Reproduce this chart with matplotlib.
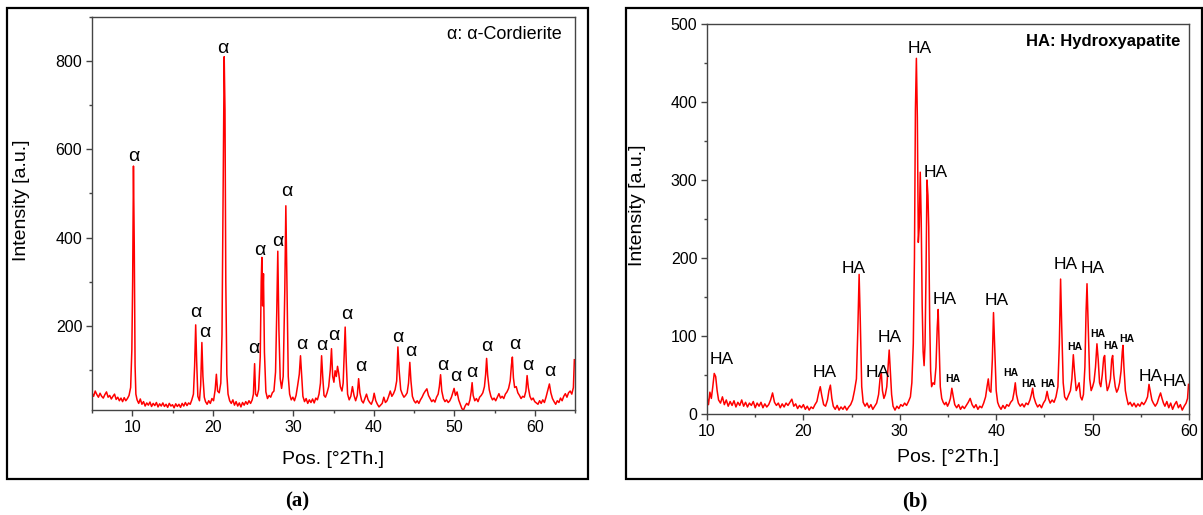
import matplotlib.pyplot as plt
from matplotlib.patches import Rectangle
from matplotlib.ticker import MultipleLocator

plt.rcParams['font.family'] = ['Liberation Sans', 'DejaVu Sans']

# (a) alpha-cordierite pattern, (2theta, counts)
cord_pattern = [
    (5.0, 48), (5.2, 40), (5.4, 52), (5.6, 44), (5.8, 38), (6.0, 47), (6.2, 40), (6.4, 36),
    (6.6, 44), (6.8, 50), (7.0, 38), (7.2, 42), (7.4, 34), (7.6, 40), (7.8, 45), (8.0, 33),
    (8.2, 38), (8.4, 30), (8.6, 36), (8.8, 28), (9.0, 37), (9.2, 30), (9.4, 35), (9.6, 42),
    (9.8, 60), (9.95, 145), (10.05, 300), (10.15, 562), (10.25, 380), (10.35, 110), (10.45, 45),
    (10.6, 32), (10.8, 24), (11.0, 34), (11.2, 22), (11.4, 28), (11.6, 18), (11.8, 25), (12.0, 20),
    (12.2, 27), (12.4, 17), (12.6, 24), (12.8, 19), (13.0, 26), (13.2, 16), (13.4, 23), (13.6, 18),
    (13.8, 25), (14.0, 17), (14.2, 22), (14.4, 15), (14.6, 24), (14.8, 18), (15.0, 21), (15.2, 14),
    (15.4, 23), (15.6, 17), (15.8, 22), (16.0, 15), (16.2, 24), (16.4, 18), (16.6, 26), (16.8, 19),
    (17.0, 25), (17.2, 22), (17.4, 32), (17.6, 45), (17.75, 110), (17.88, 202), (18.0, 120),
    (18.15, 40), (18.35, 30), (18.5, 65), (18.65, 162), (18.78, 85), (18.95, 38), (19.1, 28),
    (19.3, 22), (19.5, 30), (19.7, 24), (19.9, 35), (20.1, 30), (20.3, 55), (20.45, 90),
    (20.6, 52), (20.8, 48), (21.0, 70), (21.15, 180), (21.3, 520), (21.42, 810), (21.52, 690),
    (21.62, 300), (21.75, 90), (21.9, 45), (22.1, 30), (22.3, 24), (22.5, 32), (22.7, 20),
    (22.9, 28), (23.1, 18), (23.3, 25), (23.5, 16), (23.7, 26), (23.9, 20), (24.1, 28), (24.3, 22),
    (24.5, 30), (24.7, 24), (24.9, 32), (25.05, 45), (25.2, 114), (25.32, 45), (25.5, 40),
    (25.7, 55), (25.9, 130), (26.02, 300), (26.1, 355), (26.2, 245), (26.3, 318), (26.42, 140),
    (26.6, 50), (26.8, 35), (27.0, 42), (27.2, 38), (27.4, 48), (27.6, 52), (27.8, 95),
    (27.95, 230), (28.08, 369), (28.22, 190), (28.38, 80), (28.55, 58), (28.75, 85), (28.95, 280),
    (29.08, 472), (29.22, 290), (29.38, 85), (29.55, 45), (29.75, 32), (29.95, 38), (30.15, 30),
    (30.35, 42), (30.55, 65), (30.75, 90), (30.9, 132), (31.05, 85), (31.2, 40), (31.4, 28),
    (31.6, 35), (31.8, 24), (32.0, 32), (32.2, 26), (32.4, 34), (32.6, 25), (32.8, 36), (33.0, 32),
    (33.2, 45), (33.38, 70), (33.52, 132), (33.66, 85), (33.82, 42), (34.0, 38), (34.2, 48),
    (34.4, 62), (34.6, 100), (34.75, 148), (34.9, 85), (35.05, 72), (35.2, 98), (35.35, 85),
    (35.5, 108), (35.65, 92), (35.85, 62), (36.05, 52), (36.2, 70), (36.32, 130), (36.45, 197),
    (36.58, 120), (36.75, 45), (36.95, 32), (37.15, 40), (37.35, 62), (37.55, 42), (37.75, 30),
    (37.95, 42), (38.12, 80), (38.28, 48), (38.5, 30), (38.7, 25), (38.9, 35), (39.1, 45),
    (39.3, 32), (39.5, 26), (39.7, 22), (39.9, 32), (40.05, 47), (40.25, 30), (40.45, 22),
    (40.65, 16), (40.85, 20), (41.05, 24), (41.25, 38), (41.45, 26), (41.65, 30), (41.85, 40),
    (42.05, 52), (42.25, 40), (42.45, 46), (42.65, 55), (42.85, 75), (43.0, 152), (43.15, 100),
    (43.35, 55), (43.55, 45), (43.75, 38), (43.95, 42), (44.15, 48), (44.32, 70), (44.48, 117),
    (44.62, 75), (44.8, 40), (45.0, 30), (45.2, 25), (45.4, 30), (45.6, 24), (45.8, 32), (46.0, 38),
    (46.2, 46), (46.4, 52), (46.6, 57), (46.8, 42), (47.0, 35), (47.2, 28), (47.4, 32), (47.6, 27),
    (47.8, 38), (48.0, 45), (48.15, 62), (48.3, 89), (48.45, 52), (48.65, 35), (48.85, 28),
    (49.05, 32), (49.25, 26), (49.45, 30), (49.65, 38), (49.82, 48), (49.98, 58), (50.15, 42),
    (50.35, 50), (50.55, 32), (50.75, 22), (50.95, 12), (51.15, 9), (51.35, 18), (51.55, 24),
    (51.75, 20), (51.95, 32), (52.1, 50), (52.22, 71), (52.35, 42), (52.55, 30), (52.75, 35),
    (52.95, 28), (53.15, 38), (53.35, 42), (53.55, 48), (53.75, 62), (53.9, 90), (54.02, 126),
    (54.15, 88), (54.35, 55), (54.55, 40), (54.75, 32), (54.95, 36), (55.15, 30), (55.35, 38),
    (55.55, 46), (55.75, 36), (55.95, 40), (56.15, 35), (56.35, 45), (56.55, 50), (56.75, 58),
    (56.95, 75), (57.1, 110), (57.22, 129), (57.35, 82), (57.5, 60), (57.7, 62), (57.9, 48),
    (58.1, 42), (58.3, 35), (58.5, 40), (58.7, 38), (58.9, 52), (59.05, 87), (59.2, 60),
    (59.4, 40), (59.6, 32), (59.8, 36), (60.0, 28), (60.2, 25), (60.4, 22), (60.6, 30), (60.8, 24),
    (61.0, 32), (61.2, 26), (61.4, 38), (61.6, 52), (61.82, 68), (62.0, 48), (62.2, 35),
    (62.4, 28), (62.6, 22), (62.8, 30), (63.0, 26), (63.2, 36), (63.4, 30), (63.6, 40), (63.8, 46),
    (64.0, 38), (64.2, 48), (64.4, 52), (64.6, 45), (64.8, 60), (64.92, 123),
]

# (b) hydroxyapatite pattern
ha_pattern = [
    (10.0, 22), (10.15, 12), (10.3, 28), (10.45, 20), (10.6, 35), (10.75, 52), (10.9, 48),
    (11.05, 30), (11.2, 18), (11.4, 14), (11.6, 22), (11.8, 12), (12.0, 18), (12.2, 10),
    (12.4, 16), (12.6, 11), (12.8, 17), (13.0, 9), (13.2, 15), (13.4, 11), (13.6, 18), (13.8, 10),
    (14.0, 15), (14.2, 9), (14.4, 14), (14.6, 11), (14.8, 16), (15.0, 8), (15.2, 14), (15.4, 10),
    (15.6, 15), (15.8, 8), (16.0, 13), (16.2, 9), (16.4, 12), (16.6, 18), (16.8, 27), (17.0, 15),
    (17.2, 11), (17.4, 14), (17.6, 8), (17.8, 13), (18.0, 9), (18.2, 14), (18.4, 11), (18.6, 15),
    (18.8, 19), (19.0, 10), (19.2, 13), (19.4, 7), (19.6, 11), (19.8, 8), (20.0, 12), (20.2, 6),
    (20.4, 10), (20.6, 5), (20.8, 9), (21.0, 7), (21.2, 12), (21.4, 16), (21.6, 28), (21.75, 35),
    (21.9, 24), (22.1, 12), (22.3, 10), (22.5, 18), (22.65, 30), (22.8, 37), (22.95, 20),
    (23.1, 10), (23.3, 6), (23.5, 11), (23.7, 5), (23.9, 9), (24.1, 6), (24.3, 10), (24.5, 5),
    (24.7, 9), (24.9, 12), (25.1, 18), (25.3, 30), (25.5, 45), (25.65, 110), (25.78, 179),
    (25.9, 120), (26.05, 35), (26.2, 15), (26.4, 10), (26.6, 14), (26.8, 8), (27.0, 12), (27.2, 6),
    (27.4, 10), (27.6, 14), (27.8, 25), (27.95, 45), (28.08, 53), (28.2, 30), (28.35, 20),
    (28.5, 25), (28.65, 35), (28.78, 60), (28.9, 82), (29.02, 55), (29.15, 25), (29.3, 10),
    (29.5, 5), (29.7, 10), (29.9, 7), (30.1, 12), (30.3, 10), (30.5, 14), (30.7, 11), (30.9, 16),
    (31.1, 22), (31.25, 40), (31.4, 90), (31.52, 200), (31.62, 390), (31.72, 456), (31.82, 380),
    (31.92, 220), (32.02, 240), (32.12, 310), (32.22, 250), (32.32, 140), (32.42, 80), (32.52, 62),
    (32.62, 90), (32.72, 180), (32.82, 300), (32.92, 280), (33.0, 240), (33.1, 120), (33.2, 55),
    (33.3, 35), (33.45, 40), (33.6, 38), (33.75, 60), (33.88, 110), (33.98, 134), (34.08, 90),
    (34.2, 35), (34.35, 20), (34.5, 15), (34.65, 12), (34.8, 15), (34.95, 10), (35.1, 14),
    (35.25, 20), (35.4, 33), (35.55, 22), (35.7, 12), (35.9, 8), (36.1, 12), (36.3, 6), (36.5, 10),
    (36.7, 7), (36.9, 11), (37.1, 15), (37.3, 20), (37.5, 12), (37.7, 8), (37.9, 12), (38.1, 6),
    (38.3, 10), (38.5, 8), (38.7, 14), (38.9, 22), (39.05, 35), (39.18, 45), (39.3, 30),
    (39.45, 28), (39.6, 70), (39.72, 130), (39.85, 85), (40.0, 30), (40.15, 15), (40.3, 10),
    (40.5, 6), (40.7, 11), (40.9, 7), (41.1, 12), (41.3, 10), (41.5, 15), (41.7, 18), (41.85, 28),
    (41.98, 40), (42.1, 25), (42.3, 14), (42.5, 10), (42.7, 13), (42.9, 9), (43.1, 14), (43.3, 12),
    (43.5, 18), (43.65, 25), (43.78, 33), (43.9, 22), (44.1, 14), (44.3, 9), (44.5, 12), (44.7, 8),
    (44.9, 14), (45.1, 18), (45.28, 29), (45.42, 20), (45.6, 14), (45.8, 18), (46.0, 15),
    (46.2, 22), (46.4, 35), (46.55, 90), (46.68, 173), (46.8, 110), (46.95, 40), (47.1, 22),
    (47.3, 18), (47.5, 24), (47.7, 30), (47.85, 45), (48.0, 76), (48.12, 55), (48.3, 30),
    (48.45, 35), (48.6, 40), (48.75, 22), (48.9, 18), (49.05, 25), (49.2, 60), (49.32, 130),
    (49.42, 167), (49.55, 110), (49.7, 45), (49.85, 30), (50.0, 35), (50.15, 42), (50.3, 60),
    (50.45, 90), (50.58, 70), (50.72, 40), (50.85, 35), (51.0, 50), (51.15, 72), (51.25, 75),
    (51.38, 45), (51.52, 30), (51.68, 35), (51.85, 45), (51.98, 70), (52.08, 75), (52.2, 50),
    (52.35, 35), (52.5, 28), (52.65, 32), (52.8, 40), (52.95, 55), (53.08, 80), (53.15, 88),
    (53.25, 60), (53.4, 30), (53.55, 20), (53.7, 12), (53.9, 15), (54.1, 10), (54.3, 14),
    (54.5, 9), (54.7, 13), (54.9, 10), (55.1, 15), (55.3, 12), (55.5, 16), (55.7, 22), (55.85, 38),
    (56.0, 28), (56.15, 18), (56.3, 14), (56.5, 10), (56.7, 14), (56.9, 22), (57.05, 27),
    (57.2, 20), (57.35, 14), (57.5, 10), (57.7, 16), (57.9, 8), (58.1, 14), (58.3, 6), (58.5, 12),
    (58.7, 16), (58.9, 8), (59.1, 12), (59.3, 5), (59.5, 10), (59.7, 14), (59.85, 20), (59.95, 38),
]

# peak marks (x, y) in data units
cord_marks = [
    (10.2, 583), (21.3, 828), (17.9, 230), (19.0, 185), (25.1, 149), (25.9, 370), (28.1, 391),
    (29.25, 504), (31.05, 158), (33.55, 156), (35.05, 179), (36.7, 226), (38.4, 108), (43.05, 174),
    (44.6, 141), (48.55, 109), (50.2, 84), (52.2, 93), (54.1, 154), (57.5, 158), (59.15, 111),
    (61.9, 97),
]
ha_marks = [
    (11.55, 70), (22.2, 53), (25.25, 186), (27.7, 53), (28.9, 98), (32.05, 468), (33.7, 310),
    (34.65, 147), (40.0, 145), (47.2, 192), (50.0, 186), (56.0, 48), (58.5, 42),
]
ha_small_marks = [
    (35.5, 45), (41.5, 52), (43.4, 39), (45.4, 39), (48.2, 86), (50.55, 102), (51.9, 87),
    (53.5, 96),
]

W, H = 1203, 515
fig = plt.figure(figsize=(W / 100, H / 100), dpi=100)


def px_axes(x0, y0, x1, y1):
    return fig.add_axes([x0 / W, 1 - y1 / H, (x1 - x0) / W, (y1 - y0) / H])


def style(ax, xmaj, ymaj, ymin):
    for s in ax.spines.values():
        s.set_color('#444444')
        s.set_linewidth(1.0)
    ax.xaxis.set_major_locator(MultipleLocator(xmaj))
    ax.xaxis.set_minor_locator(MultipleLocator(xmaj / 2))
    ax.yaxis.set_major_locator(MultipleLocator(ymaj))
    ax.yaxis.set_minor_locator(MultipleLocator(ymin))
    ax.tick_params(which='major', direction='out', length=4, width=1, labelsize=11.5,
                   color='#444444', pad=3)
    ax.tick_params(which='minor', direction='out', length=2.5, width=1, color='#444444')
    ax.set_xlabel('Pos. [°2Th.]', fontsize=14)
    ax.set_ylabel('Intensity [a.u.]', fontsize=14)


# ---- panel (a)
ax1 = px_axes(92, 17, 575, 410)
ax1.plot([p[0] for p in cord_pattern], [p[1] for p in cord_pattern], color='red', lw=1.1)
ax1.set_xlim(5, 65)
ax1.set_ylim(9, 900)
style(ax1, 10, 200, 100)
ax1.xaxis.set_label_coords(0.5, -0.105)
ax1.yaxis.set_label_coords(-0.128, 0.534)
for x, y in cord_marks:
    ax1.text(x, y, 'α', fontsize=14, ha='center', va='center')
ax1.text(0.972, 0.955, 'α: α-Cordierite', transform=ax1.transAxes, fontsize=13,
         ha='right', va='center')

# ---- panel (b)
ax2 = px_axes(707, 24, 1189, 414)
ax2.plot([p[0] for p in ha_pattern], [p[1] for p in ha_pattern], color='red', lw=1.1)
ax2.set_xlim(10, 60)
ax2.set_ylim(0, 500)
style(ax2, 10, 100, 50)
ax2.xaxis.set_label_coords(0.5, -0.09)
ax2.yaxis.set_label_coords(-0.126, 0.534)
for x, y in ha_marks:
    ax2.text(x, y, 'HA', fontsize=12.5, ha='center', va='center')
for x, y in ha_small_marks:
    ax2.text(x, y, 'HA', fontsize=7.5, fontweight='bold', ha='center', va='center')
ax2.text(0.983, 0.956, 'HA: Hydroxyapatite', transform=ax2.transAxes, fontsize=12,
         fontweight='bold', ha='right', va='center')

# outer frames and panel captions
for x0, x1 in [(7, 588), (626, 1202)]:
    fig.add_artist(Rectangle((x0 / W, 1 - 479 / H), (x1 - x0) / W, 471 / H,
                             transform=fig.transFigure, fill=False, ec='black', lw=1.6))
fig.text(297 / W, 1 - 501 / H, '(a)', fontsize=15, fontweight='bold',
         family='Liberation Serif', ha='center', va='center')
fig.text(915 / W, 1 - 501 / H, '(b)', fontsize=15, fontweight='bold',
         family='Liberation Serif', ha='center', va='center')

fig.savefig('out.png', dpi=100)
